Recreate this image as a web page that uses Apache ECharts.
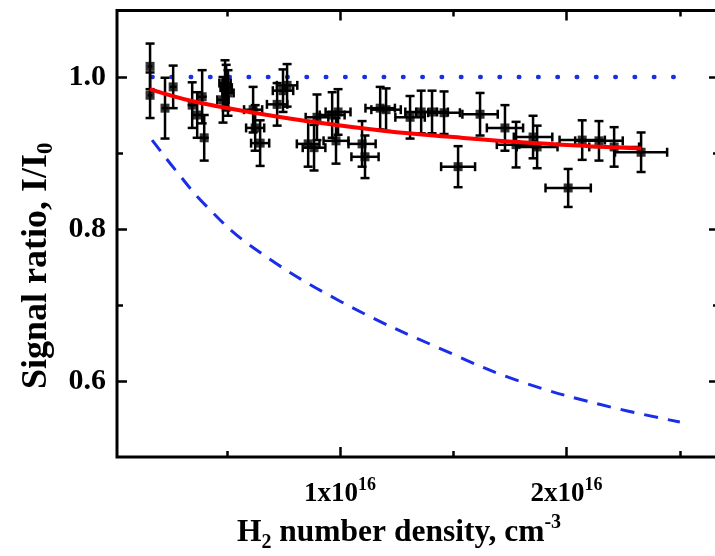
<!DOCTYPE html>
<html><head><meta charset="utf-8">
<script src="https://cdn.jsdelivr.net/npm/echarts@6/dist/echarts.min.js"></script>
<style>html,body{margin:0;padding:0;background:#fff}#c{width:715px;height:556px}</style>
</head><body><div id="c"></div>
<script>
// H2 number density in units of 1e16 cm^-3
const densityX = [0.161,0.161,0.227,0.263,0.347,0.369,0.391,0.400,0.483,0.492,0.497,0.505,
  0.616,0.625,0.647,0.722,0.748,0.766,0.859,0.885,0.898,0.965,0.991,0.982,
  1.097,1.110,1.177,1.203,1.309,1.358,1.406,1.459,1.618,1.521,1.728,1.777,
  1.852,1.870,2.007,2.069,2.143,2.210,2.329];
const ratioY = [1.014,0.976,0.959,0.987,0.963,0.950,0.974,0.920,0.970,0.992,0.986,0.979,
  0.957,0.933,0.913,0.964,0.982,0.989,0.912,0.907,0.947,0.950,0.954,0.916,
  0.912,0.895,0.959,0.957,0.947,0.954,0.954,0.953,0.951,0.882,0.933,0.911,
  0.921,0.908,0.854,0.917,0.916,0.908,0.901];
const densityErr = [0.010,0.010,0.015,0.015,0.020,0.020,0.020,0.020,0.025,0.025,0.025,0.025,
  0.040,0.040,0.040,0.045,0.045,0.045,0.050,0.050,0.050,0.055,0.055,0.055,
  0.060,0.060,0.065,0.065,0.065,0.070,0.070,0.070,0.078,0.075,0.080,0.085,
  0.085,0.090,0.100,0.100,0.105,0.110,0.115];
const ratioErr = [0.030,0.030,0.040,0.028,0.030,0.030,0.035,0.030,0.030,0.030,0.030,0.030,
  0.030,0.030,0.030,0.028,0.028,0.028,0.030,0.030,0.030,0.030,0.030,0.030,
  0.030,0.028,0.028,0.028,0.028,0.028,0.028,0.028,0.028,0.027,0.030,0.030,
  0.028,0.028,0.025,0.026,0.026,0.026,0.026];
// fit curve (red)
const fitX = [0.16,0.35,0.62,0.90,1.20,1.50,1.80,2.10,2.33];
const fitY = [0.984,0.968,0.953,0.940,0.929,0.921,0.914,0.909,0.906];
// model curve (blue dashed)
const modelX = [0.17,0.28,0.40,0.60,1.00,1.50,1.79,2.15,2.50];
const modelY = [0.917,0.875,0.833,0.779,0.705,0.635,0.600,0.569,0.546];
// unity reference (blue dotted)
const refX = [0.17,2.50];
const refY = [1.0,1.0];
// ticks
const xMajorTicks = [1,2];
const xMinorTicks = [0.5,1.5,2.5];
const yMajorTicks = [0.6,0.8,1.0];
const yMinorTicks = [0.7,0.9];

const FONT = "'Liberation Serif','Times New Roman',serif";
const xMin = 0.015, xMax = 2.673, yMin = 0.5, yMax = 1.0875;

const pts = densityX.map((x,i)=>[x, ratioY[i], densityErr[i], ratioErr[i]]);

function xAx(opts){
  return Object.assign({type:'value', min:xMin, max:xMax, splitLine:{show:false},
    axisLine:{show:false}, axisLabel:{show:false}, axisTick:{show:false}}, opts);
}
function yAx(opts){
  return Object.assign({type:'value', min:yMin, max:yMax, splitLine:{show:false},
    axisLine:{show:false}, axisLabel:{show:false}, axisTick:{show:false}}, opts);
}
const tickStyle = {color:'#000', width:2.5};

const option = {
  animation:false,
  grid:{left:117, right:-4, top:10.5, bottom:99, outerBoundsMode:'none', containLabel:false,
    show:true, borderColor:'#000', borderWidth:3, backgroundColor:'transparent'},
  xAxis:[
    xAx({position:'bottom',
      axisTick:{show:true, inside:true, length:10, lineStyle:tickStyle, customValues:xMajorTicks},
      axisLabel:{show:true, customValues:xMajorTicks, margin:19,
        formatter:v=>'{b|'+Math.round(v)+'x10}{s|16}',
        rich:{b:{fontFamily:FONT, fontWeight:'bold', fontSize:27, color:'#000', lineHeight:32, verticalAlign:'bottom'},
              s:{fontFamily:FONT, fontWeight:'bold', fontSize:18, color:'#000', lineHeight:18, verticalAlign:'top'}}},
      name:'{m|H}{sub|2}{m| number density, cm}{sup|-3}', nameLocation:'middle', nameGap:48,
      nameTextStyle:{padding:[0,38,0,0], rich:{
        m:{fontFamily:FONT, fontWeight:'bold', fontSize:31.5, color:'#000', lineHeight:40, verticalAlign:'middle'},
        sub:{fontFamily:FONT, fontWeight:'bold', fontSize:20, color:'#000', lineHeight:20, verticalAlign:'bottom'},
        sup:{fontFamily:FONT, fontWeight:'bold', fontSize:20, color:'#000', lineHeight:20, verticalAlign:'top'}}}
    }),
    xAx({position:'bottom', axisTick:{show:true, inside:true, length:6, lineStyle:tickStyle, customValues:xMinorTicks}}),
    xAx({position:'top', axisTick:{show:true, inside:true, length:10, lineStyle:tickStyle, customValues:xMajorTicks}}),
    xAx({position:'top', axisTick:{show:true, inside:true, length:6, lineStyle:tickStyle, customValues:xMinorTicks}})
  ],
  yAxis:[
    yAx({position:'left',
      axisTick:{show:true, inside:true, length:10, lineStyle:tickStyle, customValues:yMajorTicks},
      axisLabel:{show:true, customValues:yMajorTicks, margin:11,
        formatter:v=>v.toFixed(1),
        fontFamily:FONT, fontWeight:'bold', fontSize:30, color:'#000'},
      name:'{m|Signal ratio, I/I}{sub|0}', nameLocation:'middle', nameGap:58, nameRotate:90,
      nameTextStyle:{padding:[0,64,0,0], rich:{
        m:{fontFamily:FONT, fontWeight:'bold', fontSize:36, color:'#000', lineHeight:42, verticalAlign:'middle'},
        sub:{fontFamily:FONT, fontWeight:'bold', fontSize:23, color:'#000', lineHeight:22, verticalAlign:'bottom'}}}
    }),
    yAx({position:'left', axisTick:{show:true, inside:true, length:6, lineStyle:tickStyle, customValues:yMinorTicks}}),
    yAx({position:'right', axisTick:{show:true, inside:true, length:10, lineStyle:tickStyle, customValues:yMajorTicks}}),
    yAx({position:'right', axisTick:{show:true, inside:true, length:6, lineStyle:tickStyle, customValues:yMinorTicks}})
  ],
  series:[
    {type:'line', data:refX.map((x,i)=>[x,refY[i]]), showSymbol:false, symbol:'none',
      lineStyle:{color:'#1a2ee8', width:4.5, type:[0.5,18.8], cap:'round'}, z:2},
    {type:'line', data:modelX.map((x,i)=>[x,modelY[i]]), smooth:0.4, showSymbol:false, symbol:'none',
      lineStyle:{color:'#1a2ee8', width:3, type:[14,10]}, z:2},
    {type:'custom', data:pts, z:3,
      renderItem:(params, api)=>{
        const x=api.value(0), y=api.value(1), ex=api.value(2), ey=api.value(3);
        const c=api.coord([x,y]);
        const l=api.coord([x-ex,y]), r=api.coord([x+ex,y]);
        const t=api.coord([x,y+ey]), b=api.coord([x,y-ey]);
        const cap=4.5, st={stroke:'#000', lineWidth:2.5};
        const ch=[
          {type:'line', shape:{x1:l[0],y1:c[1],x2:r[0],y2:c[1]}, style:st},
          {type:'line', shape:{x1:c[0],y1:t[1],x2:c[0],y2:b[1]}, style:st},
          {type:'line', shape:{x1:c[0]-cap,y1:t[1],x2:c[0]+cap,y2:t[1]}, style:st},
          {type:'line', shape:{x1:c[0]-cap,y1:b[1],x2:c[0]+cap,y2:b[1]}, style:st}
        ];
        if (r[0]-l[0] > 10) {
          ch.push({type:'line', shape:{x1:l[0],y1:c[1]-cap,x2:l[0],y2:c[1]+cap}, style:st});
          ch.push({type:'line', shape:{x1:r[0],y1:c[1]-cap,x2:r[0],y2:c[1]+cap}, style:st});
        }
        return {type:'group', children:ch};
      }},
    {type:'scatter', data:densityX.map((x,i)=>[x,ratioY[i]]), symbol:'rect', symbolSize:9,
      itemStyle:{color:'#000'}, z:4},
    {type:'line', data:fitX.map((x,i)=>[x,fitY[i]]), smooth:0.4, showSymbol:false, symbol:'none',
      lineStyle:{color:'#ff0000', width:4}, z:5}
  ]
};
const chart = echarts.init(document.getElementById('c'), null, {renderer:'canvas'});
chart.setOption(option);
</script></body></html>
